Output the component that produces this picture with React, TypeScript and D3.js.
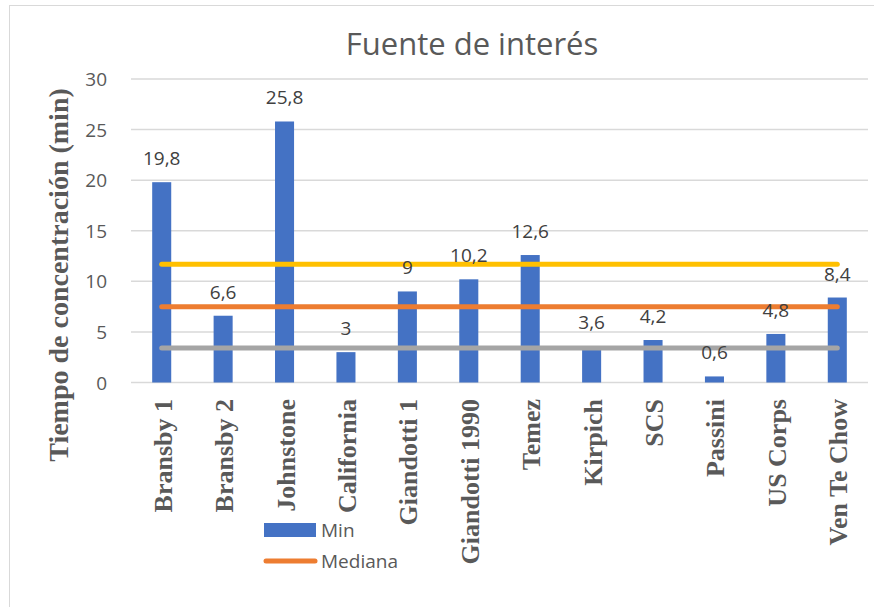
import * as React from 'react';
import * as d3 from 'd3';

const categories = ['Bransby 1', 'Bransby 2', 'Johnstone', 'California', 'Giandotti 1', 'Giandotti 1990',
    'Temez', 'Kirpich', 'SCS', 'Passini', 'US Corps', 'Ven Te Chow'];
const minValues = [19.8, 6.6, 25.8, 3, 9, 10.2, 12.6, 3.6, 4.2, 0.6, 4.8, 8.4];
const medianaValues = [7.5, 7.5, 7.5, 7.5, 7.5, 7.5, 7.5, 7.5, 7.5, 7.5, 7.5, 7.5];
const upperValues = [11.7, 11.7, 11.7, 11.7, 11.7, 11.7, 11.7, 11.7, 11.7, 11.7, 11.7, 11.7];
const lowerValues = [3.4, 3.4, 3.4, 3.4, 3.4, 3.4, 3.4, 3.4, 3.4, 3.4, 3.4, 3.4];
const yTicks = [0, 5, 10, 15, 20, 25, 30];

const sans = '"Open Sans", sans-serif';
const serif = '"Liberation Serif", "Times New Roman", serif';

const App = () => {
    const ref = React.useRef<SVGSVGElement>(null);

    React.useEffect(() => {
        const svg = d3.select(ref.current);
        svg.selectAll('*').remove();

        const x = d3.scaleBand<string>()
            .domain(categories)
            .range([131, 868])
            .paddingInner(0.69)
            .paddingOuter(0.345);
        const y = d3.scaleLinear()
            .domain([0, 30])
            .range([382.5, 79]);
        const cx = (c: string) => x(c)! + x.bandwidth() / 2;

        // chart frame
        svg.append('rect')
            .attr('x', 9.5).attr('y', 5.5)
            .attr('width', 1000).attr('height', 1000)
            .attr('fill', 'none')
            .attr('stroke', '#d9d9d9');

        svg.append('text')
            .attr('x', 472).attr('y', 55)
            .attr('text-anchor', 'middle')
            .style('font-family', sans)
            .style('font-size', '31px')
            .attr('fill', '#595959')
            .text('Fuente de interés');

        // grid + y ticks
        const grid = svg.append('g');
        grid.selectAll('line').data(yTicks).join('line')
            .attr('x1', 131).attr('x2', 868)
            .attr('y1', d => y(d)).attr('y2', d => y(d))
            .attr('stroke', '#d9d9d9')
            .attr('stroke-width', 1.5);
        grid.selectAll('text').data(yTicks).join('text')
            .attr('x', 107).attr('y', d => y(d) + 7)
            .attr('text-anchor', 'end')
            .style('font-family', sans)
            .style('font-size', '19px')
            .attr('fill', '#595959')
            .text(d => d);

        // bars
        svg.append('g').selectAll('rect').data(minValues).join('rect')
            .attr('x', (d, i) => x(categories[i])!)
            .attr('width', x.bandwidth())
            .attr('y', d => y(d))
            .attr('height', d => y(0) - y(d))
            .attr('fill', '#4472c4');

        // reference lines
        const line = d3.line<number>()
            .x((d, i) => cx(categories[i]))
            .y(d => y(d));
        const series: [number[], string][] = [
            [upperValues, '#ffc000'],
            [medianaValues, '#ed7d31'],
            [lowerValues, '#a5a5a5'],
        ];
        series.forEach(([vals, color]) => {
            svg.append('path')
                .attr('d', line(vals))
                .attr('fill', 'none')
                .attr('stroke', color)
                .attr('stroke-width', 5)
                .attr('stroke-linecap', 'round');
        });

        // data labels
        svg.append('g').selectAll('text').data(minValues).join('text')
            .attr('x', (d, i) => cx(categories[i]))
            .attr('y', d => y(d) - 17)
            .attr('text-anchor', 'middle')
            .style('font-family', sans)
            .style('font-size', '19px')
            .attr('fill', '#404040')
            .text(d => String(d).replace('.', ','));

        // category labels
        svg.append('g').selectAll('text').data(categories).join('text')
            .attr('transform', d => `translate(${cx(d) + 10}, 399) rotate(-90)`)
            .attr('text-anchor', 'end')
            .style('font-family', serif)
            .style('font-size', '26px')
            .style('font-weight', 'bold')
            .attr('fill', '#595959')
            .text(d => d);

        svg.append('text')
            .attr('transform', 'translate(68, 275) rotate(-90)')
            .attr('text-anchor', 'middle')
            .style('font-family', serif)
            .style('font-size', '28px')
            .style('font-weight', 'bold')
            .attr('fill', '#595959')
            .text('Tiempo de concentración (min)');

        // legend
        const legend = svg.append('g');
        legend.append('rect')
            .attr('x', 264).attr('y', 523)
            .attr('width', 52).attr('height', 14)
            .attr('fill', '#4472c4');
        legend.append('text')
            .attr('x', 321).attr('y', 537)
            .style('font-family', sans)
            .style('font-size', '19px')
            .attr('fill', '#595959')
            .text('Min');
        legend.append('line')
            .attr('x1', 266).attr('x2', 315)
            .attr('y1', 561).attr('y2', 561)
            .attr('stroke', '#ed7d31')
            .attr('stroke-width', 5)
            .attr('stroke-linecap', 'round');
        legend.append('text')
            .attr('x', 321).attr('y', 568)
            .style('font-family', sans)
            .style('font-size', '19px')
            .attr('fill', '#595959')
            .text('Mediana');
    }, []);

    return (
        <svg ref={ref} width={874} height={607}
            style={{ position: 'absolute', left: 0, top: 0, background: '#fff' }} />
    );
};

export default App;
